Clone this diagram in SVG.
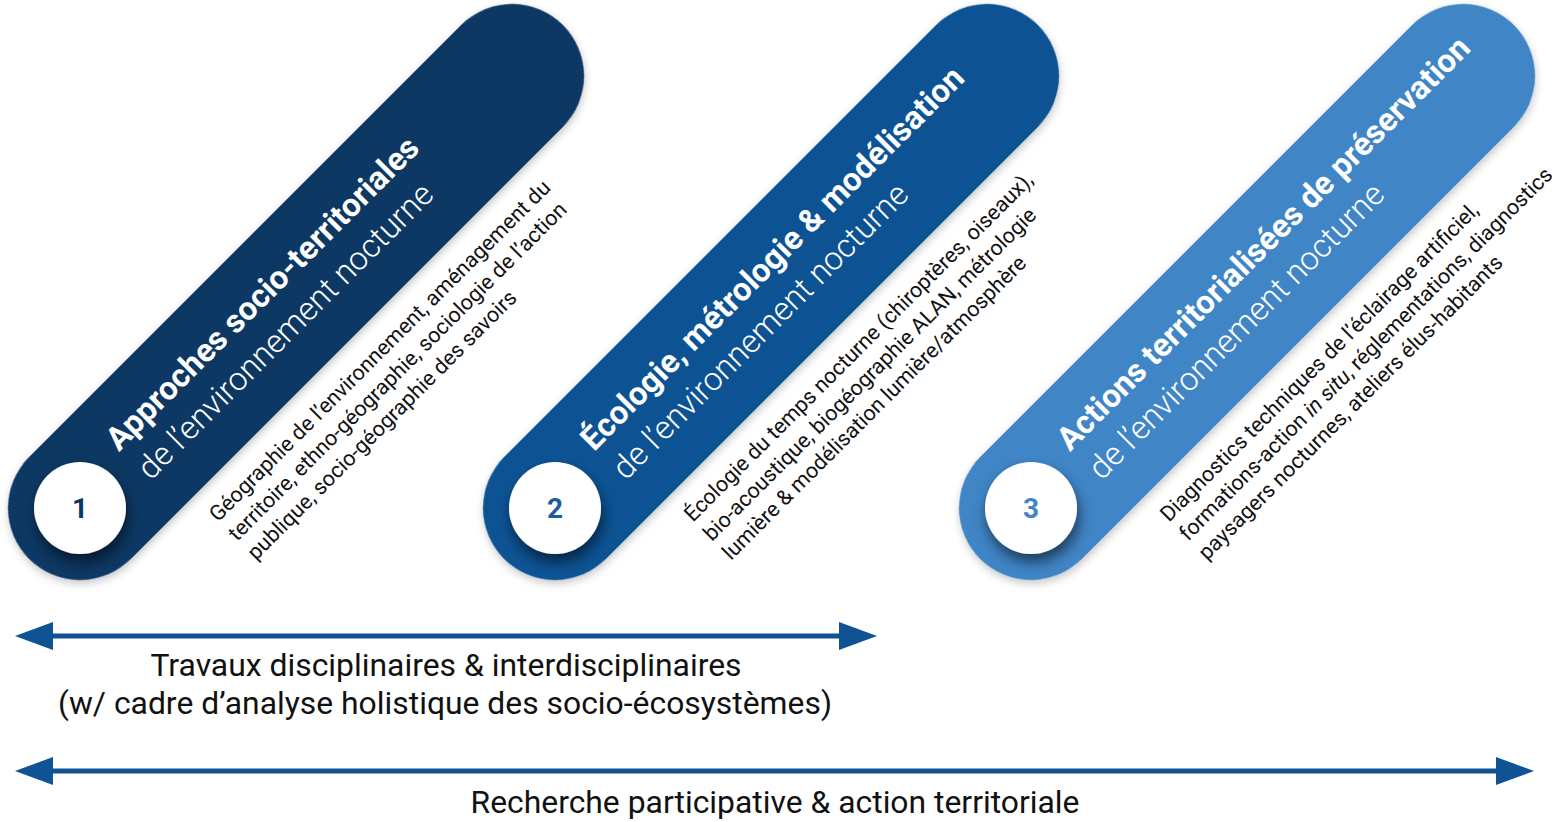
<svg xmlns="http://www.w3.org/2000/svg" width="1562" height="822" viewBox="0 0 1562 822">
<defs>
<style>
.title{font-family:Roboto,"Liberation Sans",sans-serif;font-weight:700;font-size:32.5px;fill:#ffffff}
.sub{font-family:Roboto,"Liberation Sans",sans-serif;font-weight:300;font-size:32.5px;fill:#ffffff}
.desc{font-family:Roboto,"Liberation Sans",sans-serif;font-weight:400;font-size:21.5px;fill:#111111}
.num{font-family:Roboto,"Liberation Sans",sans-serif;font-weight:700;font-size:28px;text-anchor:middle}
.bottom{font-family:Roboto,"Liberation Sans",sans-serif;font-weight:400;font-size:31px;fill:#111111;text-anchor:middle}
.conn{stroke:#0f5394;stroke-width:5;fill:none;marker-start:url(#arrowhead);marker-end:url(#arrowhead)}
</style>
<filter id="pillShadow" x="-10%" y="-30%" width="120%" height="160%">
<feDropShadow dx="-2" dy="3" stdDeviation="4" flood-color="#000000" flood-opacity="0.22"/>
</filter>
<filter id="circleShadow" x="-50%" y="-50%" width="200%" height="200%">
<feDropShadow dx="2" dy="8" stdDeviation="7" flood-color="#000000" flood-opacity="0.55"/>
</filter>
<marker id="arrowhead" markerUnits="userSpaceOnUse" viewBox="0 0 38 28" markerWidth="38" markerHeight="28" refX="8" refY="14" orient="auto-start-reverse">
<path d="M0,0 L38,14 L0,28 Z" fill="#0f5394"/>
</marker>
</defs>
<rect width="1562" height="822" fill="#ffffff"/>

<g id="node1">
<g transform="translate(80,508) rotate(-45)">
<rect x="-72" y="-72" width="755" height="144" rx="72" fill="#0a3763" filter="url(#pillShadow)"/>
<text class="title" x="67" y="-12">Approches socio-territoriales</text>
<text class="sub" x="69" y="31">de l’environnement nocturne</text>
<text class="desc"><tspan x="87" y="108">Géographie de l’environnement, aménagement du</tspan><tspan x="87" y="135">territoire, ethno-géographie, sociologie de l’action</tspan><tspan x="87" y="162">publique, socio-géographie des savoirs</tspan></text>
</g>
<circle cx="80" cy="508" r="46" fill="#ffffff" filter="url(#circleShadow)"/>
<text class="num" x="80" y="518" fill="#0a3763">1</text>
</g>

<g id="node2">
<g transform="translate(555,508) rotate(-45)">
<rect x="-72" y="-72" width="755" height="144" rx="72" fill="#0f5394" filter="url(#pillShadow)"/>
<text class="title" x="67" y="-12">Écologie, métrologie &amp; modélisation</text>
<text class="sub" x="69" y="31">de l’environnement nocturne</text>
<text class="desc"><tspan x="87" y="108">Écologie du temps nocturne (chiroptères, oiseaux),</tspan><tspan x="87" y="135">bio-acoustique, biogéographie ALAN, métrologie</tspan><tspan x="87" y="162">lumière &amp; modélisation lumière/atmosphère</tspan></text>
</g>
<circle cx="555" cy="508" r="46" fill="#ffffff" filter="url(#circleShadow)"/>
<text class="num" x="555" y="518" fill="#1a5c9c">2</text>
</g>

<g id="node3">
<g transform="translate(1031,508) rotate(-45)">
<rect x="-72" y="-72" width="755" height="144" rx="72" fill="#4185c6" filter="url(#pillShadow)"/>
<text class="title" x="67" y="-12">Actions territorialisées de préservation</text>
<text class="sub" x="69" y="31">de l’environnement nocturne</text>
<text class="desc"><tspan x="87" y="108">Diagnostics techniques de l’éclairage artificiel,</tspan><tspan x="87" y="135">formations-action <tspan font-style="italic">in situ</tspan>, réglementations, diagnostics</tspan><tspan x="87" y="162">paysagers nocturnes, ateliers élus-habitants</tspan></text>
</g>
<circle cx="1031" cy="508" r="46" fill="#ffffff" filter="url(#circleShadow)"/>
<text class="num" x="1031" y="518" fill="#4185c6">3</text>
</g>

<g id="connectors">
<line class="conn" x1="45" y1="636" x2="847" y2="636"/>
<line class="conn" x1="45" y1="771" x2="1504" y2="771"/>
</g>

<g id="labels">
<text class="bottom" x="446" y="676" textLength="591" lengthAdjust="spacingAndGlyphs">Travaux disciplinaires &amp; interdisciplinaires</text>
<text class="bottom" x="445" y="714" textLength="774" lengthAdjust="spacingAndGlyphs">(w/ cadre d’analyse holistique des socio-écosystèmes)</text>
<text class="bottom" x="775" y="813" textLength="609" lengthAdjust="spacingAndGlyphs">Recherche participative &amp; action territoriale</text>
</g>
</svg>
